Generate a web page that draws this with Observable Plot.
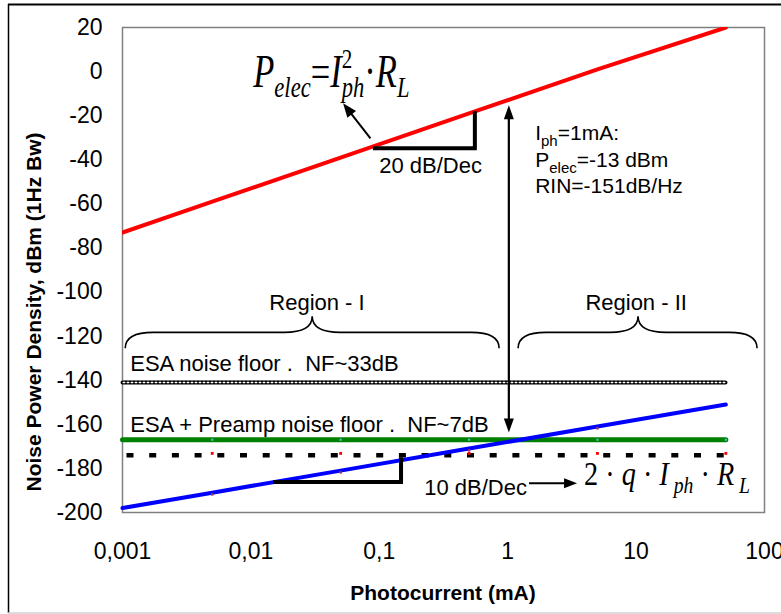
<!DOCTYPE html>
<html><head><meta charset="utf-8">
<script src="https://cdn.jsdelivr.net/npm/d3@7"></script>
<script src="https://cdn.jsdelivr.net/npm/@observablehq/plot@0.6"></script>
<style>
html,body{margin:0;padding:0;background:#fff;}
#chart{position:relative;width:781px;height:614px;overflow:hidden;}
</style></head><body><div id="chart"></div>
<script>
// ---- data ----
const currents      = [0.001, 0.005, 0.05, 0.5, 5, 50];     // mA
const pElec         = [-73, -59, -39, -19, 1, 20];          // dBm, red
const shotNoise     = [-198, -191, -181, -171, -161, -151]; // dBm, blue
const esaFloor      = [-141, -141, -141, -141, -141, -141];
const preampFloor   = [-167, -167, -167, -167, -167, -167];
const thermalFloor  = [-174, -174, -174, -174, -174, -174];
const markerCurrents = [0.005, 0.05, 0.5, 5, 50];
const yTicks = [-200, -180, -160, -140, -120, -100, -80, -60, -40, -20, 0, 20];
const xTicks = [0.001, 0.01, 0.1, 1, 10, 100];
const xTickLabels = ["0,001", "0,01", "0,1", "1", "10", "100"];
const xTitle = "Photocurrent (mA)";
const yTitle = "Noise Power Density, dBm (1Hz Bw)";

// annotation anchors in data units (mA, dBm)
const regionLabels = [{t: "Region - I", x: 0.033, y: -108.5}, {t: "Region - II", x: 10.1, y: -108.5}];
const braces = [{x0: 0.00106, xt: 0.0303, x1: 0.865}, {x0: 1.216, xt: 10.45, x1: 88.3}];
const braceY = {tip: -111.2, mid: -118.5, end: -125.7};
const floorLabels = [{t: "ESA noise floor .  NF~33dB", x: 0.00116, y: -136.2},
                     {t: "ESA + Preamp noise floor .  NF~7dB", x: 0.00116, y: -163.6}];
const slopeRed  = [[0.09, -35], [0.56, -35], [0.56, -18.2]];
const slopeBlue = [[0.015, -186.4], [0.149, -186.4], [0.149, -175.2]];
const slopeLabels = [{t: "20 dB/Dec", x: 0.1007, y: -46.4}, {t: "10 dB/Dec", x: 0.2256, y: -192.4}];
const infoLines = [[["I",""],["ph","sub"],["=1mA:",""]],
                   [["P",""],["elec","sub"],["=-13 dBm",""]],
                   [["RIN=-151dB/Hz",""]]];
const infoPos = {x: 1.652, y: [-31.4, -43.6, -55.4]};

const rows = currents.map((c, i) => ({c, red: pElec[i], blue: shotNoise[i], esa: esaFloor[i], pre: preampFloor[i], th: thermalFloor[i]}));
const marks = markerCurrents.map(c => rows.find(r => r.c === c));

const W = 781, H = 614;
const plot = Plot.plot({
  width: W, height: H,
  marginLeft: 122, marginRight: 17, marginTop: 27, marginBottom: 102,
  style: {fontFamily: "'Liberation Sans', Arial, sans-serif", fontSize: "23px", background: "transparent", overflow: "visible"},
  x: {type: "log", domain: [0.001, 100]},
  y: {domain: [-200, 20]},
  marks: [
    Plot.frame({stroke: "#808080", strokeWidth: 1.5}),
    Plot.axisY({ticks: yTicks, tickSize: 0, tickPadding: 20, tickFormat: d => String(d), fontSize: 23, label: null}),
    Plot.axisX({ticks: xTicks, tickSize: 0, tickPadding: 30, tickFormat: d => xTickLabels[xTicks.indexOf(d)], fontSize: 23, label: null}),
    // ESA noise floor (chain-like dotted)
    Plot.line(rows, {x: "c", y: "esa", stroke: "#000", strokeWidth: 4, strokeDasharray: "3,1"}),
    Plot.line(rows, {x: "c", y: "esa", stroke: "#fff", strokeWidth: 1.4, strokeDasharray: "1.5,2.5", strokeDashoffset: -0.75}),
    // thermal floor dashed
    Plot.line(rows, {x: "c", y: "th", stroke: "#000", strokeWidth: 4.5, strokeDasharray: "7,15.7", strokeDashoffset: -4, strokeLinecap: "butt"}),
    Plot.dot(marks, {x: "c", y: d => d.th + 0.8, symbol: "square", r: 1.6, fill: "#ff0000"}),
    // ESA + preamp floor
    Plot.line(rows, {x: "c", y: "pre", stroke: "#008000", strokeWidth: 5}),
    Plot.dot(marks, {x: "c", y: "pre", symbol: "square", r: 1.2, fill: "#33cccc"}),
    // shot noise
    Plot.line(rows, {x: "c", y: "blue", stroke: "#0000ff", strokeWidth: 4}),
    Plot.dot(marks.slice(0, 4), {x: "c", y: d => d.blue - 0.8, symbol: "square", r: 1.4, fill: "#993366"}),
    // electrical power
    Plot.line(rows, {x: "c", y: "red", stroke: "#ff0000", strokeWidth: 4, clip: true})
  ]
});
document.getElementById("chart").appendChild(plot);

const sx = plot.scale("x"), sy = plot.scale("y");
const X = v => sx.apply(v), Y = v => sy.apply(v);
const svg = d3.select(plot);
const ann = svg.append("g").attr("text-anchor", "start");

// outer border of the figure
ann.append("line").attr("x1", 8).attr("x2", W).attr("y1", 4.5).attr("y2", 4.5).attr("stroke", "#000").attr("stroke-width", 2);
ann.append("line").attr("x1", 8.5).attr("x2", 8.5).attr("y1", 4).attr("y2", 613).attr("stroke", "#000").attr("stroke-width", 1.5);
ann.append("line").attr("x1", 8).attr("x2", W).attr("y1", 613).attr("y2", 613).attr("stroke", "#d0d0d0").attr("stroke-width", 1.5);

const sans = "'Liberation Sans', Arial, sans-serif";
const serif = "'Liberation Serif', 'Times New Roman', serif";

// axis titles
ann.append("text").attr("x", (X(0.001) + X(100)) / 2).attr("y", 600).attr("text-anchor", "middle")
  .attr("font-family", sans).attr("font-weight", "bold").attr("font-size", 21).text(xTitle);
ann.append("text").attr("transform", `translate(41,312) rotate(-90)`).attr("text-anchor", "middle")
  .attr("font-family", sans).attr("font-weight", "bold").attr("font-size", 21).text(yTitle);

function arrowHead(x, y, angle, len = 13, wid = 10) {
  const c = Math.cos(angle), s = Math.sin(angle);
  const bx = x - c * len, by = y - s * len;
  const p = [[x, y], [bx - s * wid / 2, by + c * wid / 2], [bx + s * wid / 2, by - c * wid / 2]];
  ann.append("path").attr("d", "M" + p.map(q => q.join(",")).join("L") + "Z").attr("fill", "#000");
}
function arrow(x1, y1, x2, y2, w = 2, len = 13, wid = 10) {
  const a = Math.atan2(y2 - y1, x2 - x1);
  ann.append("line").attr("x1", x1).attr("y1", y1).attr("x2", x2 - Math.cos(a) * len * 0.8).attr("y2", y2 - Math.sin(a) * len * 0.8)
    .attr("stroke", "#000").attr("stroke-width", w);
  arrowHead(x2, y2, a, len, wid);
}

// slope triangles
for (const tri of [slopeRed, slopeBlue]) {
  ann.append("path").attr("d", "M" + tri.map(([a, b]) => `${X(a)},${Y(b)}`).join("L"))
    .attr("fill", "none").attr("stroke", "#000").attr("stroke-width", 4).attr("stroke-linejoin", "miter");
}
for (const s of slopeLabels) {
  ann.append("text").attr("x", X(s.x)).attr("y", Y(s.y)).attr("text-anchor", "start").attr("font-family", sans).attr("font-size", 22).text(s.t);
}
arrow(X(1.479), Y(-187), X(3.5), Y(-187), 2, 13, 10);

// floor labels
for (const f of floorLabels) {
  ann.append("text").attr("x", X(f.x)).attr("y", Y(f.y)).attr("text-anchor", "start").attr("font-family", sans).attr("font-size", 22).attr("xml:space", "preserve").text(f.t);
}
// region labels and braces
for (const r of regionLabels) {
  ann.append("text").attr("x", X(r.x)).attr("y", Y(r.y)).attr("text-anchor", "middle").attr("font-family", sans).attr("font-size", 22).text(r.t);
}
for (const b of braces) {
  const x0 = X(b.x0), xt = X(b.xt), x1 = X(b.x1), yt = Y(braceY.tip), ym = Y(braceY.mid), ye = Y(braceY.end);
  const r = 28;
  const d = `M${x0},${ye} Q${x0},${ym} ${x0 + r},${ym} L${xt - r},${ym} Q${xt},${ym} ${xt},${yt} Q${xt},${ym} ${xt + r},${ym} L${x1 - r},${ym} Q${x1},${ym} ${x1},${ye}`;
  ann.append("path").attr("d", d).attr("fill", "none").attr("stroke", "#000").attr("stroke-width", 1.6);
}

// vertical double arrow at 1 mA
{
  const x = X(1.03), yTop = Y(-15.5), yBot = Y(-163.9);
  ann.append("line").attr("x1", x).attr("x2", x).attr("y1", yTop + 10).attr("y2", yBot - 10).attr("stroke", "#000").attr("stroke-width", 2.2);
  arrowHead(x, yTop, -Math.PI / 2, 14, 10);
  arrowHead(x, yBot, Math.PI / 2, 14, 10);
}
// info text block
infoLines.forEach((line, i) => {
  const t = ann.append("text").attr("x", X(infoPos.x)).attr("y", Y(infoPos.y[i])).attr("text-anchor", "start").attr("font-family", sans).attr("font-size", 21);
  let shifted = false;
  for (const [s, kind] of line) {
    const ts = t.append("tspan").text(s);
    if (kind === "sub") { ts.attr("font-size", 15).attr("dy", 6); shifted = true; }
    else if (shifted) { ts.attr("dy", -6); shifted = false; }
  }
});

// arrow to P_elec formula
arrow(X(0.0861), Y(-30.5), X(0.0527), Y(-14.6), 2, 14, 11);

function formula(parts, x, y, fitWidth) {
  const g = ann.append("g").attr("transform", `translate(${x},${y})`);
  const t = g.append("text").attr("text-anchor", "start").attr("font-family", serif).attr("xml:space", "preserve");
  for (const p of parts) {
    const ts = t.append("tspan").text(p.s).attr("font-size", p.size);
    if (p.italic) ts.attr("font-style", "italic");
    if (p.dx) ts.attr("dx", p.dx);
    if (p.dy) ts.attr("dy", p.dy);
  }
  const w = t.node().getBBox().width;
  const k = w > 0 ? fitWidth / w : 1;
  t.attr("transform", `scale(${k},1)`);
}
formula([
  {s: "P", size: 46, italic: true},
  {s: "elec", size: 30, italic: true, dy: 10},
  {s: "=", size: 46, dy: -10},
  {s: "I", size: 46, italic: true},
  {s: "2", size: 28, dy: -19},
  {s: "ph", size: 30, italic: true, dx: -14, dy: 29},
  {s: "\u00b7", size: 46, dy: -10},
  {s: "R", size: 46, italic: true},
  {s: "L", size: 30, italic: true, dy: 10}
], X(0.01052), Y(-7.4), 157);

formula([
  {s: "2 \u00b7 ", size: 33},
  {s: "q", size: 33, italic: true},
  {s: " \u00b7 ", size: 33},
  {s: "I", size: 33, italic: true},
  {s: " ph", size: 23, italic: true, dy: 8},
  {s: " \u00b7 ", size: 33, dy: -8},
  {s: "R", size: 33, italic: true},
  {s: " L", size: 23, italic: true, dy: 8}
], X(3.97), Y(-187.9), 166);
</script></body></html>
